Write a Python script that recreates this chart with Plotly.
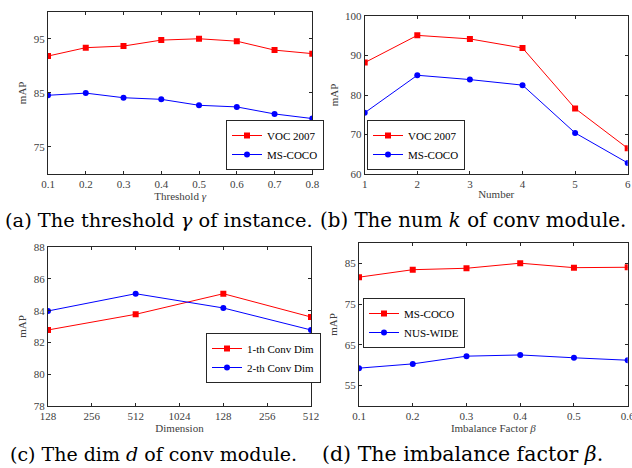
import plotly.graph_objects as go

# (a) threshold gamma
thr = [0.1, 0.2, 0.3, 0.4, 0.5, 0.6, 0.7, 0.8]
a_voc = [91.8, 93.35, 93.65, 94.75, 95.0, 94.55, 92.9, 92.25]
a_coco = [84.55, 84.95, 84.1, 83.8, 82.7, 82.4, 81.1, 80.25]

# (b) number of conv modules
num = [1, 2, 3, 4, 5, 6]
b_voc = [88.2, 95.1, 94.2, 91.9, 76.6, 66.5]
b_coco = [75.5, 85.0, 83.9, 82.5, 70.4, 62.8]

# (c) dimension
dim_ticks = ["128", "256", "512", "1024", "128", "256", "512"]
dim_pos = [0, 2, 4, 6]
c_conv1 = [82.78, 83.77, 85.07, 83.6]
c_conv2 = [83.98, 85.07, 84.17, 82.78]

# (d) imbalance factor beta
beta = [0.1, 0.2, 0.3, 0.4, 0.5, 0.6]
d_coco = [81.65, 83.5, 83.85, 85.1, 84.0, 84.1]
d_nus = [59.25, 60.3, 62.2, 62.5, 61.8, 61.2]

W, H = 632, 468
SERIF = "Liberation Serif, Times New Roman, serif"
CAPSERIF = "DejaVu Serif, serif"
RED = "#FF0000"
BLUE = "#0000FF"


def px_x(p):
    return p / W


def px_y(p):
    return 1 - p / H


fig = go.Figure()


def add_series(x, y, name, color, symbol, xa, ya, legend):
    fig.add_trace(go.Scatter(
        x=x, y=y, name=name, mode="lines+markers",
        line=dict(color=color, width=1),
        marker=dict(color=color, symbol=symbol, size=6),
        xaxis=xa, yaxis=ya, legend=legend, cliponaxis=True))


add_series(thr, a_voc, "VOC 2007", RED, "square", "x", "y", "legend")
add_series(thr, a_coco, "MS-COCO", BLUE, "circle", "x", "y", "legend")
add_series(num, b_voc, "VOC 2007", RED, "square", "x2", "y2", "legend2")
add_series(num, b_coco, "MS-COCO", BLUE, "circle", "x2", "y2", "legend2")
add_series(dim_pos, c_conv1, "1-th Conv Dim", RED, "square", "x3", "y3", "legend3")
add_series(dim_pos, c_conv2, "2-th Conv Dim", BLUE, "circle", "x3", "y3", "legend3")
add_series(beta, d_coco, "MS-COCO", RED, "square", "x4", "y4", "legend4")
add_series(beta, d_nus, "NUS-WIDE", BLUE, "circle", "x4", "y4", "legend4")

tickfont = dict(family=SERIF, size=11, color="#404040")
titlefont = dict(family=SERIF, size=11, color="#404040")


def axis_common():
    return dict(showline=True, linecolor="#262626", linewidth=1, mirror="ticks",
                ticks="inside", ticklen=3, tickcolor="#262626", showgrid=False,
                zeroline=False, tickfont=tickfont, automargin=False,
                ticklabeloverflow="allow")


boxes = {
    "": (48, 312.3, 11.7, 174),
    "2": (364.7, 627.7, 16, 174),
    "3": (48, 311, 247.3, 405.7),
    "4": (359, 627.7, 243.3, 405.7),
}

xcfg = {
    "": dict(range=[0.1, 0.8], tickvals=thr, ticktext=[f"{v:.1f}" for v in thr],
             title_text="Threshold <i>γ</i>"),
    "2": dict(range=[1, 6], tickvals=num, title_text="Number"),
    "3": dict(range=[0, 6], tickvals=list(range(7)), ticktext=dim_ticks,
              title_text="Dimension"),
    "4": dict(range=[0.1, 0.6], tickvals=beta, ticktext=[f"{v:.1f}" for v in beta],
              title_text="Imbalance Factor <i>β</i>"),
}
ycfg = {
    "": dict(range=[70, 100], tickvals=[75, 85, 95]),
    "2": dict(range=[60, 100], tickvals=[60, 70, 80, 90, 100]),
    "3": dict(range=[78, 88], tickvals=[78, 80, 82, 84, 86, 88]),
    "4": dict(range=[50, 90], tickvals=[55, 65, 75, 85]),
}

layout = {}
for k, (l, r, t, b) in boxes.items():
    xa = axis_common()
    xa.update(xcfg[k])
    xa.update(domain=[px_x(l), px_x(r)], anchor="y" + k, title_font=titlefont,
              title_standoff=1)
    ya = axis_common()
    ya.update(ycfg[k])
    ya.update(domain=[px_y(b), px_y(t)], anchor="x" + k, title_text="mAP",
              title_font=titlefont, title_standoff=4)
    layout["xaxis" + k] = xa
    layout["yaxis" + k] = ya


def legend(x0, y0, yanchor):
    return dict(font=dict(family=SERIF, size=11, color="#000000"),
                bgcolor="white", bordercolor="#262626", borderwidth=1,
                itemwidth=30, xanchor="left", yanchor=yanchor,
                x=px_x(x0), y=px_y(y0), xref="paper", yref="paper",
                tracegroupgap=0)


layout["legend"] = legend(226, 170, "bottom")
layout["legend2"] = legend(367, 170, "bottom")
layout["legend3"] = legend(206, 358, "middle")
layout["legend4"] = legend(363, 323, "middle")

fig.update_layout(**layout)

captions = [
    ("(a) The threshold <i>γ</i> of instance.", 3, 220, 19.4),
    ("(b) The num <i>k</i> of conv module.", 318, 220, 19.8),
    ("(c) The dim <i>d</i> of conv module.", 8, 454, 19),
    ("(d) The imbalance factor <i>β</i>.", 320, 454, 20.5),
]
for text, x0, yc, fs in captions:
    fig.add_annotation(text=text, x=px_x(x0), y=px_y(yc), xref="paper", yref="paper",
                       xanchor="left", yanchor="middle", showarrow=False,
                       font=dict(family=CAPSERIF, size=fs, color="#000000"))

fig.update_layout(width=W, height=H,
                  margin=dict(l=0, r=0, t=0, b=0, pad=0, autoexpand=False),
                  paper_bgcolor="white", plot_bgcolor="white", showlegend=True)

fig.write_html("out.html", config={"displayModeBar": False},
               post_script="document.body.style.margin='0';document.body.style.overflow='hidden';")
